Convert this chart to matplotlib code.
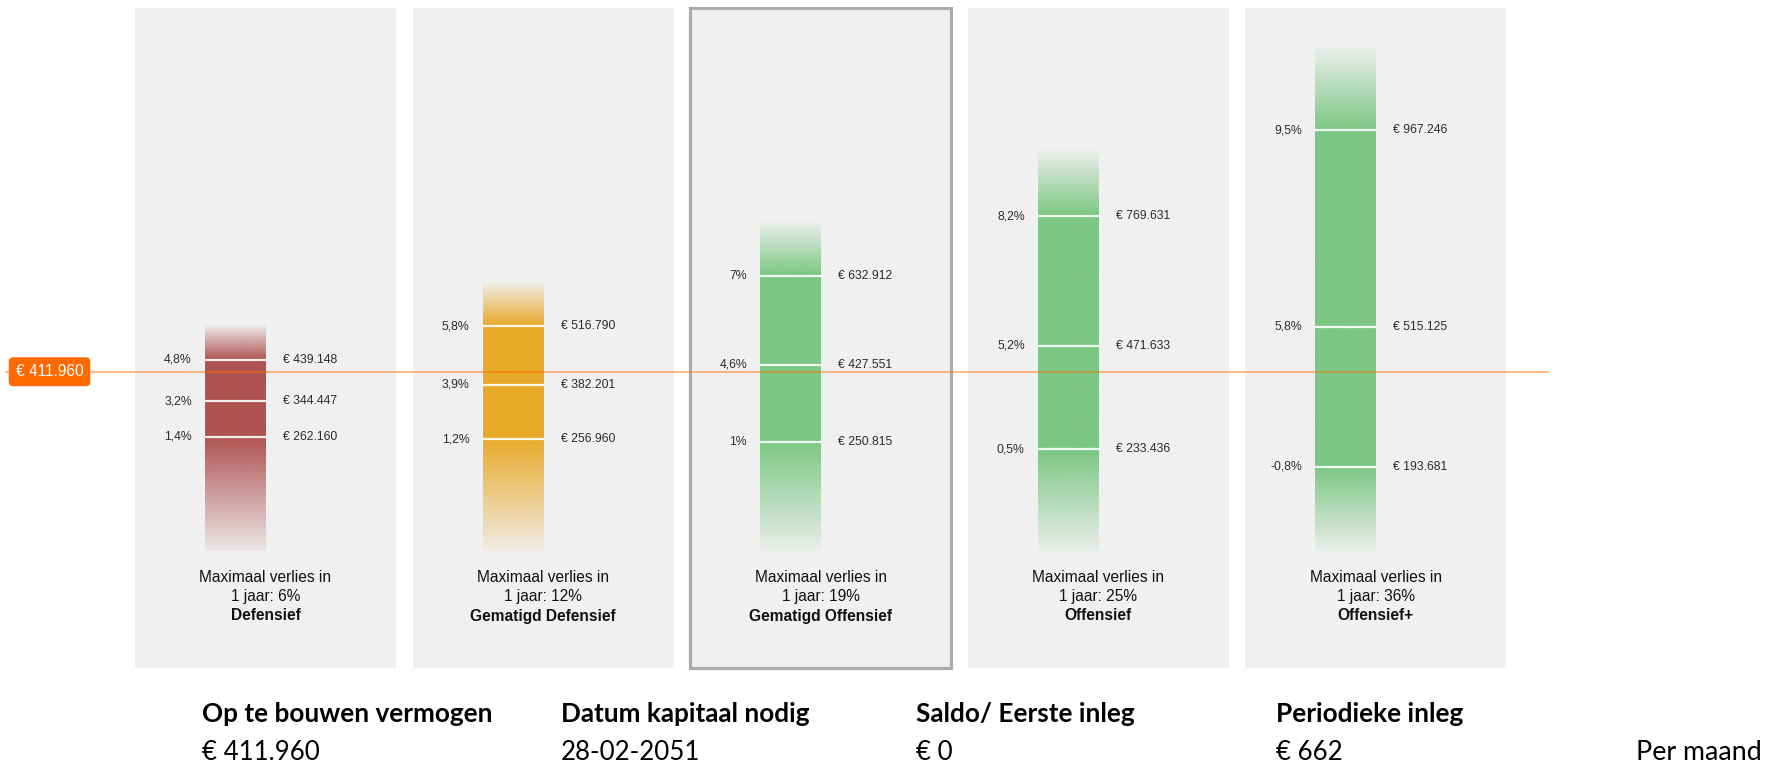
import numpy as np
import matplotlib.pyplot as plt
from matplotlib.patches import Rectangle

# risk profiles
names = ['Defensief', 'Gematigd Defensief', 'Gematigd Offensief', 'Offensief', 'Offensief+']
max_loss = [6, 12, 19, 25, 36]
upper_val = [439148, 516790, 632912, 769631, 967246]
mid_val = [344447, 382201, 427551, 471633, 515125]
low_val = [262160, 256960, 250815, 233436, 193681]
upper_pct = [4.8, 5.8, 7, 8.2, 9.5]
mid_pct = [3.2, 3.9, 4.6, 5.2, 5.8]
low_pct = [1.4, 1.2, 1, 0.5, -0.8]
bar_top = [519000, 616000, 754000, 921000, 1156000]   # where the fade ends
bar_bottom = [0, 0, 0, 0, 0]
colors = ['#AF5252', '#E9A928', '#7BC783', '#7BC783', '#7BC783']
selected = 2

target = 411960

info_labels = ['Op te bouwen vermogen', 'Datum kapitaal nodig', 'Saldo/ Eerste inleg', 'Periodieke inleg']
info_values = ['€ 411.960', '28-02-2051', '€ 0', '€ 662']
info_extra = 'Per maand'


def eur(v):
    return '€ ' + f'{v:,.0f}'.replace(',', '.')


def pct(p):
    return f'{p:g}'.replace('.', ',') + '%'


W, H = 1769, 767
fig = plt.figure(figsize=(W / 100, H / 100), dpi=100)
ax = fig.add_axes([0, 0, 1, 1])
ax.set_xlim(0, W)
ax.set_ylim(-496000, 1266000)
ax.axis('off')
xt = ax.get_xaxis_transform()


def py(p):
    # pixel row -> axes fraction
    return 1 - p / H


FONT = 'Liberation Sans'
TXT = '#2b2b2b'

for i in range(5):
    left = 135 + i * 277.6
    w = 261
    sel = i == selected
    ax.add_patch(Rectangle((left, py(668)), w, py(8) - py(668), transform=xt,
                           facecolor='#F0F0F0', edgecolor='#ABABAB' if sel else 'none',
                           lw=2.3 if sel else 0, zorder=0))

    # gradient bar
    x0 = left + 70
    x1 = x0 + 61
    vals = np.linspace(bar_bottom[i], bar_top[i], 400)
    alpha = np.interp(vals, [bar_bottom[i], low_val[i], upper_val[i], bar_top[i]],
                      [0.06, 1, 1, 0.04])
    rgba = np.zeros((len(vals), 1, 4))
    rgba[..., :3] = plt.matplotlib.colors.to_rgb(colors[i])
    rgba[..., 3] = alpha[:, None]
    ax.imshow(rgba, extent=[x0, x1, bar_bottom[i], bar_top[i]], origin='lower',
              aspect='auto', interpolation='bilinear', zorder=1)

    for v, p in zip([upper_val[i], mid_val[i], low_val[i]],
                    [upper_pct[i], mid_pct[i], low_pct[i]]):
        ax.hlines(v, x0, x1, color='white', lw=1.6, alpha=0.9, zorder=2)
        ax.text(x0 - 13, v, pct(p), ha='right', va='center', fontsize=8.8,
                color=TXT, family=FONT, zorder=2)
        ax.text(x1 + 17, v, eur(v), ha='left', va='center', fontsize=8.8,
                color=TXT, family=FONT, zorder=2)

    cx = left + w / 2
    ax.text(cx, py(578), 'Maximaal verlies in', ha='center', va='center',
            fontsize=11.2, color='#111111', family=FONT, transform=xt)
    ax.text(cx, py(597), f'1 jaar: {max_loss[i]}%', ha='center', va='center',
            fontsize=11.2, color='#111111', family=FONT, transform=xt)
    ax.text(cx, py(616), names[i], ha='center', va='center', fontsize=11.2,
            color='#111111', family=FONT, weight='bold', transform=xt)

# target line and badge
ax.hlines(target, 5, 1549, color='#FF6A00', alpha=0.5, lw=1.3, zorder=3)
ax.text(49.5, target, eur(target), ha='center', va='center', color='white',
        fontsize=11.2, family=FONT, zorder=4,
        bbox=dict(boxstyle='round,pad=0.45,rounding_size=0.3', fc='#FF6A00', ec='none'))

# info row
info_x = [202, 561, 916, 1276]
for x, lab, val in zip(info_x, info_labels, info_values):
    fig.text(x / W, py(722), lab, ha='left', va='baseline', fontsize=18.8,
             weight='bold', family='Lato', color='black')
    fig.text(x / W, py(760), val, ha='left', va='baseline', fontsize=18.6,
             family='Lato', color='black')
fig.text(1636 / W, py(760), info_extra, ha='left', va='baseline', fontsize=19.3,
         family='Lato', color='black')

fig.savefig('out.png', dpi=100, facecolor='white')
